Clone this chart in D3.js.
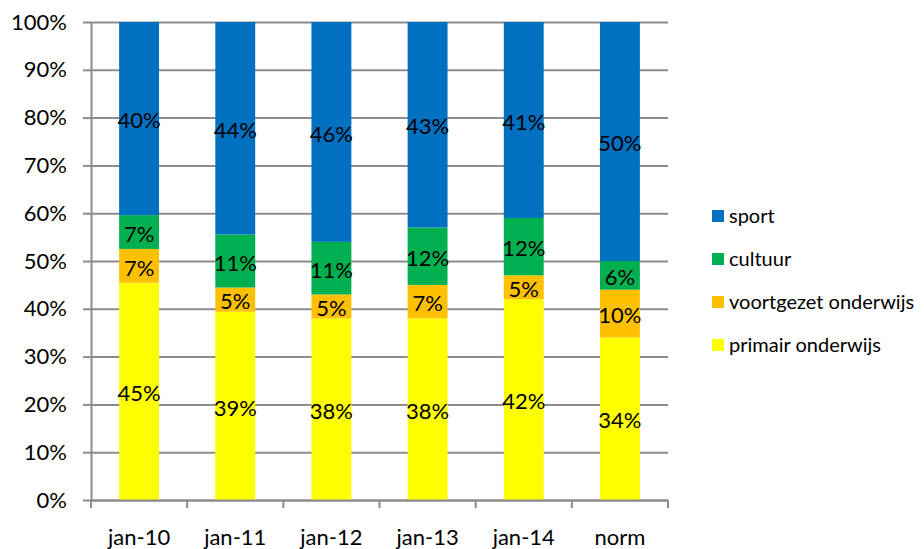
<!DOCTYPE html>
<html>
<head>
<meta charset="utf-8">
<script src="https://cdn.jsdelivr.net/npm/d3@7"></script>
<style>
  body { margin: 0; background: #fff; }
  svg text { font-family: Lato, "Open Sans", sans-serif; fill: #000; }
  .grid line { stroke: #8c8c8c; stroke-width: 2px; }
  .grid path { display: none; }
  .axis path, .axis line { stroke: #8c8c8c; stroke-width: 2px; }
</style>
</head>
<body>
<script>
(function () {

    // categories and series (values as printed on the bars)
    var categories = ["jan-10", "jan-11", "jan-12", "jan-13", "jan-14", "norm"];
    var seriesNames = ["primair onderwijs", "voortgezet onderwijs", "cultuur", "sport"];
    var primair = [45, 39, 38, 38, 42, 34];
    var voortgezet = [7, 5, 5, 7, 5, 10];
    var cultuur = [7, 11, 11, 12, 12, 6];
    var sport = [40, 44, 46, 43, 41, 50];
    var colors = ["#ffff00", "#ffc000", "#00b050", "#0070c0"];
    var yTicks = [0, 0.1, 0.2, 0.3, 0.4, 0.5, 0.6, 0.7, 0.8, 0.9, 1];

    var width = 924,
        height = 549,
        left = 91,
        right = 668,
        top = 22,
        bottom = 500;

    var table = categories.map(function (c, i) {
        var row = { cat: c };
        row[seriesNames[0]] = primair[i];
        row[seriesNames[1]] = voortgezet[i];
        row[seriesNames[2]] = cultuur[i];
        row[seriesNames[3]] = sport[i];
        return row;
    });

    var svg = d3.select("body")
        .append("svg")
        .attr("width", width)
        .attr("height", height);

    var x = d3.scaleBand()
        .domain(categories)
        .range([left, right])
        .paddingInner(0.585)
        .paddingOuter(0.2925);

    var y = d3.scaleLinear()
        .domain([0, 1])
        .range([bottom, top]);

    var color = d3.scaleOrdinal()
        .domain(seriesNames)
        .range(colors);

    // gridlines
    svg.append("g")
        .attr("class", "grid")
        .attr("transform", "translate(" + left + ",0)")
        .call(d3.axisLeft(y).tickValues(yTicks).tickSize(-(right - left)).tickFormat(""));

    // y axis
    var yAxis = svg.append("g")
        .attr("class", "axis")
        .attr("transform", "translate(" + left + ",0)")
        .call(d3.axisLeft(y).tickValues(yTicks).tickSize(8).tickSizeOuter(0).tickPadding(16)
            .tickFormat(d3.format(".0%")));
    yAxis.selectAll("text").style("font-size", "22px");

    // stacked bars, 100%
    var stack = d3.stack()
        .keys(seriesNames)
        .offset(d3.stackOffsetExpand);
    var stacked = stack(table);

    var layers = svg.selectAll(".layer")
        .data(stacked)
        .enter()
        .append("g")
        .attr("class", "layer")
        .style("fill", function (d) { return color(d.key); });

    layers.selectAll("rect")
        .data(function (d) { return d; })
        .enter()
        .append("rect")
        .attr("x", function (d) { return x(d.data.cat); })
        .attr("width", x.bandwidth())
        .attr("y", function (d) { return y(d[1]); })
        .attr("height", function (d) { return y(d[0]) - y(d[1]); });

    // data labels
    stacked.forEach(function (s) {
        svg.selectAll(".lbl-" + s.index)
            .data(s)
            .enter()
            .append("text")
            .attr("x", function (d) { return x(d.data.cat) + x.bandwidth() / 2; })
            .attr("y", function (d) { return (y(d[0]) + y(d[1])) / 2 + 2; })
            .attr("dy", "0.35em")
            .attr("text-anchor", "middle")
            .style("font-size", "22px")
            .text(function (d) { return d.data[s.key] + "%"; });
    });

    // x axis
    var xAxis = svg.append("g")
        .attr("class", "axis")
        .attr("transform", "translate(0," + bottom + ")")
        .call(d3.axisBottom(x).tickSize(0).tickSizeOuter(0).tickPadding(29));
    xAxis.selectAll("text").style("font-size", "22px");

    // tick marks between categories
    var gap = (x.step() - x.bandwidth()) / 2;
    var bounds = categories.map(function (c) { return x(c) - gap; }).concat([right]);
    xAxis.selectAll(".sep")
        .data(bounds)
        .enter()
        .append("line")
        .attr("class", "sep")
        .attr("x1", function (d) { return d; })
        .attr("x2", function (d) { return d; })
        .attr("y1", 0)
        .attr("y2", 8);

    // legend
    var legend = svg.append("g")
        .attr("transform", "translate(712,216)");
    var items = legend.selectAll(".item")
        .data(seriesNames.slice().reverse())
        .enter()
        .append("g")
        .attr("class", "item")
        .attr("transform", function (d, i) { return "translate(0," + i * 43 + ")"; });
    items.append("rect")
        .attr("x", 0)
        .attr("y", -6)
        .attr("width", 12)
        .attr("height", 12)
        .style("fill", function (d) { return color(d); });
    items.append("text")
        .attr("x", 17)
        .attr("y", 0)
        .attr("dy", "0.35em")
        .style("font-size", "20px")
        .text(function (d) { return d; });

})();
</script>
</body>
</html>
